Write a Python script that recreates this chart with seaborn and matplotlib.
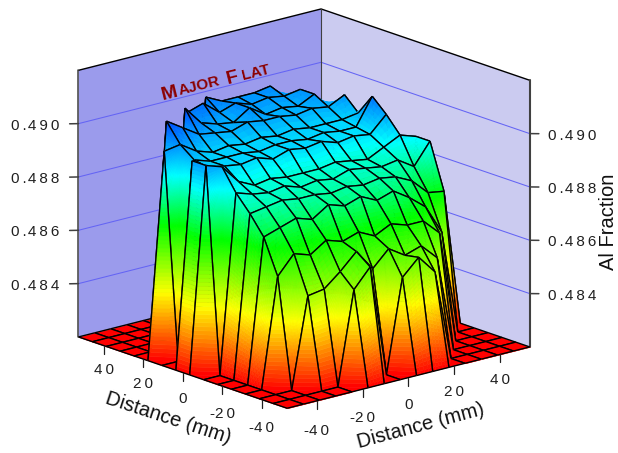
import matplotlib
matplotlib.use("Agg")
import matplotlib.pyplot as plt
import numpy as np
import seaborn as sns
from mpl_toolkits.mplot3d import proj3d
from mpl_toolkits.mplot3d.art3d import Line3DCollection, Poly3DCollection

sns.set_theme(style="white")
plt.rcParams["font.family"] = ["Liberation Sans", "DejaVu Sans"]

F = 0.4820
distance = [-53, -45.9, -38.9, -31.8, -24.7, -17.7, -10.6, -3.5, 3.5, 10.6, 17.7, 24.7, 31.8, 38.9, 45.9, 53]
# rows run along y (left axis) from -53 to 53, columns along x (right axis)
al_fraction = [
    [F, F, F, F, F, F, F, F, F, F, F, F, F, F, F, F],
    [F, F, F, F, F, .4855, .4862, F, .4855, .4861, .4854, F, F, F, F, F],
    [F, F, F, .4854, .4855, .4860, .4866, .4858, .4864, .4860, .4862, .4856, F, F, F, F],
    [F, F, .4861, .4868, .4866, .4870, .4868, .4870, .4867, .4870, .4868, .4868, .4862, F, F, F],
    [F, F, .4874, .4876, .4878, .4876, .4880, .4878, .4880, .4877, .4879, .4875, .4870, .4859, F, F],
    [F, F, .4881, .4882, .4883, .4882, .4882, .4881, .4882, .4881, .4882, .4881, .4878, .4872, .4871, F],
    [F, F, .4887, .4885, .4884, .4885, .4883, .4884, .4883, .4885, .4884, .4883, .4884, .4880, .4888, F],
    [F, .4897, .4895, .4888, .4885, .4886, .4885, .4885, .4885, .4886, .4885, .4884, .4887, .4890, .4888, F],
    [F, .4897, .4893, .4892, .4891, .4892, .4890, .4892, .4891, .4892, .4890, .4891, .4890, .4896, F, F],
    [F, F, .4894, .4892, .4892, .4892, .4891, .4892, .4892, .4891, .4892, .4891, .4891, .4901, F, F],
    [F, .4897, .4898, .4894, .4892, .4893, .4892, .4893, .4892, .4893, .4892, .4892, .4892, .4893, F, F],
    [F, F, .4905, .4901, .4897, .4896, .4895, .4897, .4896, .4896, .4895, .4896, .4895, .4898, F, F],
    [F, F, F, F, .4905, .4898, .4896, .4895, .4899, .4895, .4896, .4895, .4898, .4889, F, F],
    [F, F, F, F, F, .4900, .4902, .4897, .4899, .4897, .4898, .4897, .4898, F, F, F],
    [F, F, F, F, F, F, F, .4901, .4898, .4898, .4898, .4899, .4891, F, F, F],
    [F, F, F, F, F, F, F, F, F, F, F, F, F, F, F, F],
]
z_ticks = [0.484, 0.486, 0.488, 0.490]
distance_ticks = [-40, -20, 0, 20, 40]
color_levels = [0.482, 0.4845, 0.487, 0.4888, 0.4912]

Z_MIN, Z_MAX = 0.482, 0.492
LO, HI = -53, 53
BAND = 0.00015

cmap = sns.blend_palette(["#ff0000", "#ffff00", "#00ff00", "#00ffff", "#0000ff"], n_colors=64, as_cmap=True)


def height_color(z):
    return cmap(np.interp(z, color_levels, [0, 0.25, 0.5, 0.75, 1]))


def patch_bilinear(c):
    # c runs round the cell: (x0,y0) (x1,y0) (x1,y1) (x0,y1)
    c = np.array(c)
    nu = max(1, int(np.ceil(max(abs(c[1, 2] - c[0, 2]), abs(c[2, 2] - c[3, 2])) / BAND)))
    nv = max(1, int(np.ceil(max(abs(c[3, 2] - c[0, 2]), abs(c[2, 2] - c[1, 2])) / BAND)))
    polys = []
    for a in range(nv):
        for b in range(nu):
            quad = []
            for u, v in [(b / nu, a / nv), ((b + 1) / nu, a / nv), ((b + 1) / nu, (a + 1) / nv), (b / nu, (a + 1) / nv)]:
                quad.append(c[0] * (1 - u) * (1 - v) + c[1] * u * (1 - v) + c[2] * u * v + c[3] * (1 - u) * v)
            polys.append(quad)
    return polys


def patch_single_peak(c, k):
    # one raised corner: a fan from it down to its two neighbours, the rest stays flat on the floor
    c = np.array(c)
    top, side_a, far, side_b = c[k], c[(k + 1) % 4], c[(k + 2) % 4], c[(k + 3) % 4]
    n = max(1, int(np.ceil((top[2] - Z_MIN) / BAND)))
    polys = [[side_a, far, side_b]]
    for s in range(n):
        t0, t1 = s / n, (s + 1) / n
        polys.append([top + t0 * (side_a - top), top + t1 * (side_a - top),
                      top + t1 * (side_b - top), top + t0 * (side_b - top)])
    return polys


fig = plt.figure(figsize=(6.18, 4.53), dpi=100, facecolor="white")
ax = fig.add_subplot(projection="3d", computed_zorder=False)
ax.set_proj_type("ortho")
ax.view_init(elev=17.1, azim=-130.7)
ax.set_box_aspect((320, 320, 279), zoom=0.89)
ax.set_position([0.0094, -0.1178, 0.94, 1.28])
ax.set_xlim(LO, HI, view_margin=0)
ax.set_ylim(LO, HI, view_margin=0)
ax.set_zlim(Z_MIN, Z_MAX, view_margin=0)
ax.set_axis_off()
ax.patch.set_alpha(0)

# walls
left_wall = [(LO, HI, Z_MIN), (HI, HI, Z_MIN), (HI, HI, Z_MAX), (LO, HI, Z_MAX)]
right_wall = [(HI, HI, Z_MIN), (HI, LO, Z_MIN), (HI, LO, Z_MAX), (HI, HI, Z_MAX)]
ax.add_collection3d(Poly3DCollection([left_wall], facecolors="#9b9bec", edgecolors="none", zorder=0), autolim=False)
ax.add_collection3d(Poly3DCollection([right_wall], facecolors="#cbcbf0", edgecolors="none", zorder=0), autolim=False)
for z in z_ticks:
    ax.plot([LO, HI, HI], [HI, HI, LO], [z, z, z], color="#6464f4", lw=0.75, zorder=1)
    ax.plot([LO, LO], [HI, HI + 4.5], [z, z - 0.00012], color="#404040", lw=1.1, zorder=1)
    ax.plot([HI + 4, HI], [LO, LO], [z - 0.00009, z], color="#404040", lw=1.1, zorder=1)
ax.plot([LO, HI, HI], [HI, HI, LO], [Z_MAX, Z_MAX, Z_MAX], color="black", lw=1.0, zorder=1)
ax.plot([HI, HI], [HI, HI], [Z_MIN, Z_MAX], color="#404040", lw=0.8, zorder=1)
ax.plot([LO, LO], [HI, HI], [Z_MIN, Z_MAX], color="#404040", lw=1.1, zorder=1)
ax.plot([HI, HI], [LO, LO], [Z_MIN, Z_MAX], color="#404040", lw=1.5, zorder=1)

# surface, painted cell by cell from the far corner to the near one
grid_x = np.array(distance)
values = np.array(al_fraction)
order = 2
for i in range(len(distance) - 2, -1, -1):
    for j in range(len(distance) - 2, -1, -1):
        corners = [
            (grid_x[i], grid_x[j], values[j, i]), (grid_x[i + 1], grid_x[j], values[j, i + 1]),
            (grid_x[i + 1], grid_x[j + 1], values[j + 1, i + 1]), (grid_x[i], grid_x[j + 1], values[j + 1, i]),
        ]
        raised = [k for k in range(4) if corners[k][2] > F]
        polys = patch_single_peak(corners, raised[0]) if len(raised) == 1 else patch_bilinear(corners)
        colors = [height_color(np.mean([p[2] for p in poly])) for poly in polys]
        faces = Poly3DCollection(polys, facecolors=colors, edgecolors=colors, linewidths=0.4, zorder=order)
        ax.add_collection3d(faces, autolim=False)
        edges = [[corners[k], corners[(k + 1) % 4]] for k in range(4)]
        ax.add_collection3d(Line3DCollection(edges, colors="black", linewidths=1.0, zorder=order + 1), autolim=False)
        order += 2

# floor ticks
for t in distance_ticks:
    ax.plot([LO, LO], [t, t], [Z_MIN, Z_MIN - 0.0003], color="#202020", lw=0.9, zorder=order)
    ax.plot([t, t], [LO, LO], [Z_MIN, Z_MIN - 0.0003], color="#202020", lw=0.9, zorder=order)


def label(x, y, z, text, dx, dy, **kw):
    px, py, _ = proj3d.proj_transform(x, y, z, ax.get_proj())
    ax.annotate(text, xy=(px, py), xytext=(dx, dy), textcoords="offset pixels",
                annotation_clip=False, zorder=order + 1, color="#202020", **kw)


def spaced(text):
    return "\u2009".join(text).replace("-\u2009", "-").replace(".\u2009", ".\u200a")


for z in z_ticks:
    label(LO, HI, z, spaced(f"{z:.3f}"), -19, -2, ha="right", va="center", fontsize=11)
    label(HI, LO, z, spaced(f"{z:.3f}"), 18, -2, ha="left", va="center", fontsize=11)
for t in distance_ticks:
    label(LO, t, Z_MIN, spaced(str(t)), 0, -26.5 + 0.06 * t, ha="center", va="center", fontsize=11)
    label(t, LO, Z_MIN, spaced(str(t)), 0, -27.5 + 0.06 * t, ha="center", va="center", fontsize=11)

fig.text(168 / 618, 1 - 418 / 453, "Distance (mm)", rotation=-18, ha="center", va="center", fontsize=14.5, color="#101010")
fig.text(421 / 618, 1 - 426 / 453, "Distance (mm)", rotation=15, ha="center", va="center", fontsize=14.5, color="#101010")
fig.text(608 / 618, 1 - 222 / 453, "Al Fraction", rotation=90, ha="center", va="center", fontsize=14.5, color="#101010")

for text, px, py, size in [("M", 163, 100, 14), ("AJOR", 180, 95, 11), ("F", 228, 84, 14), ("LAT", 243, 80, 11)]:
    fig.text(px / 618, 1 - py / 453, text, rotation=14, rotation_mode="anchor", ha="left", va="baseline",
             fontsize=size, fontweight="bold", color="#8b0000")

fig.savefig("out.png", dpi=100)
